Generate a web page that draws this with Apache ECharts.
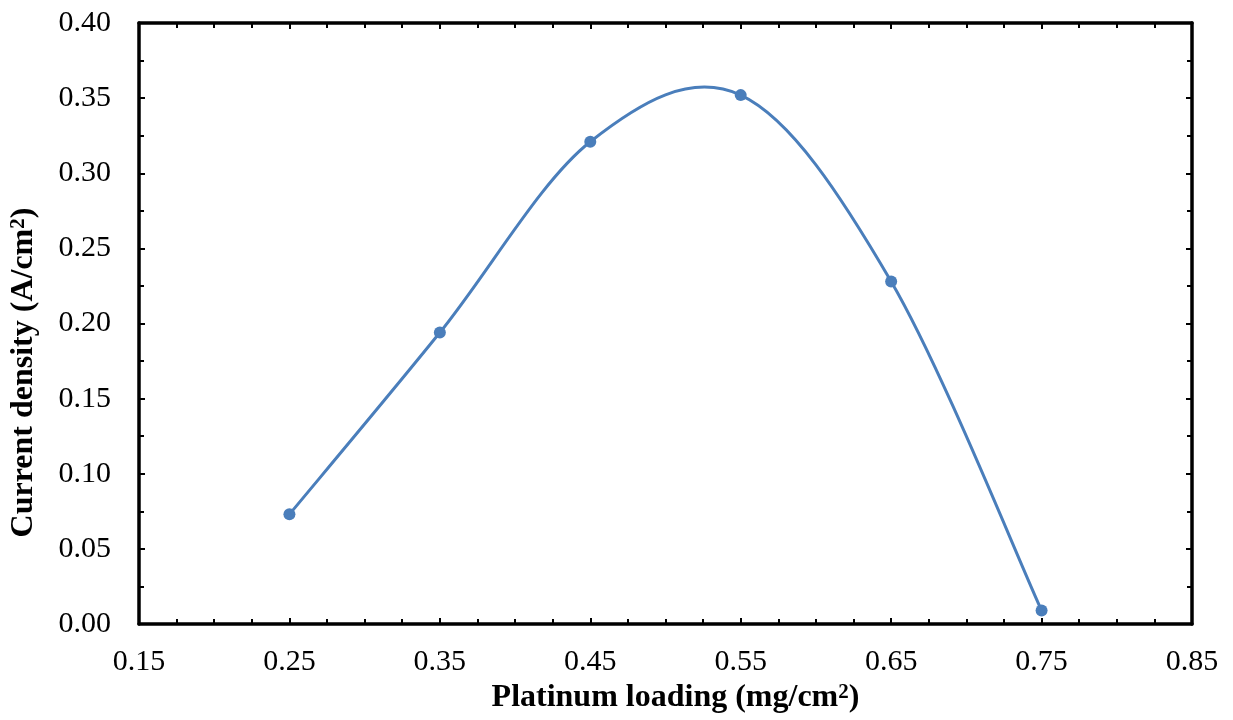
<!DOCTYPE html>
<html><head><meta charset="utf-8">
<script src="https://cdn.jsdelivr.net/npm/echarts@6/dist/echarts.min.js"></script>
<style>html,body{margin:0;padding:0;background:#fff}#c{width:1233px;height:720px}</style>
</head><body><div id="c"></div>
<script>
const loading = [0.25, 0.35, 0.45, 0.55, 0.65, 0.75];
const density = [0.073, 0.194, 0.321, 0.352, 0.228, 0.009];
const xTitle = 'Platinum loading (mg/cm{sup|2})';
const yTitle = 'Current density (A/cm{sup|2})';
const font = 'Liberation Serif';
const lineColor = '#4a7ebb';
const chart = echarts.init(document.getElementById('c'));
const tickStyle = {show: true, inside: true, length: 6, lineStyle: {color: '#000', width: 2}};
const minorStyle = {show: true, length: 5, lineStyle: {color: '#000', width: 2}};
const axisLine = {show: true, onZero: false, lineStyle: {color: '#000', width: 3.5}};
const supStyle = {sup: {fontFamily: font, fontSize: 21, fontWeight: 'bold', color: '#000', verticalAlign: 'top', padding: [0, 0, 8, 0]}};
const xTitleStyle = {fontFamily: font, fontSize: 32, fontWeight: 'bold', color: '#000', padding: [0, 0, 0, 20], rich: supStyle};
const yTitleStyle = {fontFamily: font, fontSize: 32, fontWeight: 'bold', color: '#000', padding: [0, 98, 0, 0], rich: supStyle};
const points = loading.map((x, i) => [x, density[i]]);
chart.setOption({
  animation: false,
  grid: {left: 137, right: 41, top: 23, bottom: 96},
  xAxis: [{
    type: 'value', min: 0.15, max: 0.85, interval: 0.1, position: 'bottom',
    axisLine, axisTick: tickStyle, minorTick: Object.assign({splitNumber: 4}, minorStyle),
    splitLine: {show: false}, minorSplitLine: {show: false},
    axisLabel: {fontFamily: font, fontSize: 30, color: '#000', margin: 23, formatter: v => v.toFixed(2)},
    name: xTitle, nameLocation: 'middle', nameGap: 54, nameTextStyle: xTitleStyle
  }, {
    type: 'value', min: 0.15, max: 0.85, interval: 0.1, position: 'top',
    axisLine, axisTick: tickStyle, minorTick: Object.assign({splitNumber: 4}, minorStyle),
    splitLine: {show: false}, axisLabel: {show: false}
  }],
  yAxis: [{
    type: 'value', min: 0, max: 0.4, interval: 0.05, position: 'left',
    axisLine, axisTick: tickStyle, minorTick: Object.assign({splitNumber: 2}, minorStyle),
    splitLine: {show: false},
    axisLabel: {fontFamily: font, fontSize: 30, color: '#000', margin: 28, formatter: v => v.toFixed(2)},
    name: yTitle, nameLocation: 'middle', nameGap: 99, nameRotate: 90, nameTextStyle: yTitleStyle
  }, {
    type: 'value', min: 0, max: 0.4, interval: 0.05, position: 'right',
    axisLine, axisTick: tickStyle, minorTick: Object.assign({splitNumber: 2}, minorStyle),
    splitLine: {show: false}, axisLabel: {show: false}
  }],
  series: [{
    type: 'custom', xAxisIndex: 0, yAxisIndex: 0, data: points, silent: true,
    renderItem: (params, api) => {
      if (params.dataIndex !== 0) return null;
      const pts = points.map(p => api.coord(p));
      const children = [];
      for (let i = 0; i < pts.length - 1; i++) {
        const p0 = pts[i - 1] || pts[i], p1 = pts[i], p2 = pts[i + 1], p3 = pts[i + 2] || pts[i + 1];
        children.push({
          type: 'bezierCurve',
          shape: {
            x1: p1[0], y1: p1[1], x2: p2[0], y2: p2[1],
            cpx1: p1[0] + (p2[0] - p0[0]) / 6, cpy1: p1[1] + (p2[1] - p0[1]) / 6,
            cpx2: p2[0] - (p3[0] - p1[0]) / 6, cpy2: p2[1] - (p3[1] - p1[1]) / 6
          },
          style: {fill: null, stroke: lineColor, lineWidth: 3}
        });
      }
      return {type: 'group', children};
    }
  }, {
    type: 'scatter', xAxisIndex: 0, yAxisIndex: 0, data: points, z: 5,
    symbol: 'circle', symbolSize: 12, itemStyle: {color: lineColor, opacity: 1}
  }]
});
</script></body></html>
